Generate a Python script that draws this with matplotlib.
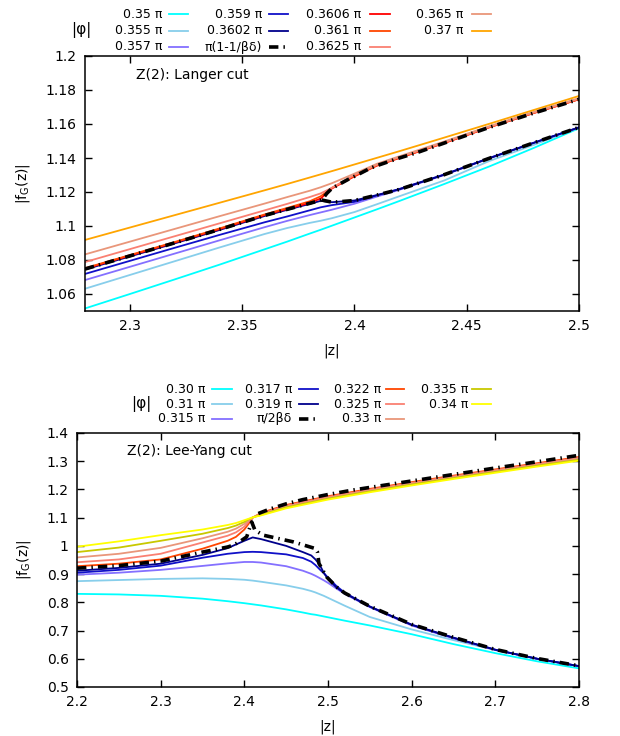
import matplotlib.pyplot as plt
from matplotlib.lines import Line2D

plt.rcParams['font.family'] = 'DejaVu Sans'
plt.rcParams['font.size'] = 9.5

# ---------------- top panel: Langer cut ----------------
zt = [2.28, 2.30, 2.32, 2.34, 2.36, 2.37, 2.38, 2.385, 2.39, 2.40, 2.41, 2.42, 2.44, 2.46, 2.48, 2.50]
f_350 = [1.0515, 1.0600, 1.0686, 1.0773, 1.0863, 1.0908, 1.0955, 1.0978, 1.1002, 1.1050, 1.1098, 1.1147, 1.1247, 1.1350, 1.1460, 1.1575]
f_355 = [1.0631, 1.0712, 1.0793, 1.0874, 1.0953, 1.0988, 1.1018, 1.1031, 1.1046, 1.1082, 1.1128, 1.1175, 1.1268, 1.1382, 1.1478, 1.1578]
f_357 = [1.0682, 1.0760, 1.0838, 1.0916, 1.0993, 1.1030, 1.1064, 1.1080, 1.1096, 1.1131, 1.1173, 1.1213, 1.1300, 1.1398, 1.1490, 1.1580]
f_359 = [1.0718, 1.0795, 1.0872, 1.0948, 1.1022, 1.1056, 1.1092, 1.1110, 1.1123, 1.1142, 1.1180, 1.1218, 1.1303, 1.1400, 1.1490, 1.1580]
f_3602 = [1.0744, 1.0821, 1.0898, 1.0977, 1.1059, 1.1095, 1.1130, 1.1148, 1.1140, 1.1150, 1.1182, 1.1216, 1.1302, 1.1398, 1.1490, 1.1580]
f_3606 = [1.0749, 1.0826, 1.0903, 1.0982, 1.1064, 1.1100, 1.1136, 1.1162, 1.1221, 1.1292, 1.1355, 1.1400, 1.1488, 1.1580, 1.1665, 1.1745]
f_361 = [1.0752, 1.0829, 1.0906, 1.0986, 1.1068, 1.1106, 1.1145, 1.1175, 1.1225, 1.1295, 1.1357, 1.1402, 1.1490, 1.1581, 1.1666, 1.1746]
f_3625 = [1.0788, 1.0864, 1.0940, 1.1016, 1.1092, 1.1130, 1.1170, 1.1192, 1.1225, 1.1300, 1.1360, 1.1405, 1.1492, 1.1583, 1.1668, 1.1748]
f_365 = [1.0833, 1.0908, 1.0983, 1.1058, 1.1132, 1.1170, 1.1207, 1.1228, 1.1252, 1.1308, 1.1366, 1.1410, 1.1497, 1.1587, 1.1672, 1.1752]
f_370 = [1.0918, 1.0991, 1.1064, 1.1137, 1.1210, 1.1247, 1.1285, 1.1304, 1.1323, 1.1362, 1.1401, 1.1440, 1.1520, 1.1601, 1.1683, 1.1765]

# critical angle pi(1-1/beta delta): incoming + upper branch, and lower branch
zt_crit_a = [2.28, 2.30, 2.32, 2.34, 2.36, 2.37, 2.38, 2.3854, 2.3877, 2.39, 2.398, 2.40, 2.4069, 2.41, 2.4173, 2.42, 2.4277, 2.44, 2.46, 2.48, 2.50]
ft_crit_a = [1.0747, 1.0824, 1.0901, 1.0980, 1.1062, 1.1098, 1.1133, 1.1153, 1.1192, 1.1222, 1.1280, 1.1292, 1.1339, 1.1355, 1.1388, 1.1400, 1.1431, 1.1488, 1.1580, 1.1665, 1.1745]
zt_crit_b = [2.3854, 2.39, 2.3936, 2.40, 2.41, 2.42, 2.44, 2.46, 2.48, 2.50]
ft_crit_b = [1.1153, 1.1140, 1.1143, 1.1150, 1.1182, 1.1215, 1.1302, 1.1398, 1.1490, 1.1580]

top_labels = ['0.35 π', '0.355 π', '0.357 π', '0.359 π', '0.3602 π', 'π(1-1/βδ)',
              '0.3606 π', '0.361 π', '0.3625 π', '0.365 π', '0.37 π']
top_series = [f_350, f_355, f_357, f_359, f_3602, None, f_3606, f_361, f_3625, f_365, f_370]
top_colors = ['#00ffff', '#87ceeb', '#8470ff', '#1010c8', '#00008b', 'black',
              '#ff0000', '#ff4500', '#fa8072', '#e9967a', '#ffa500']

# ---------------- bottom panel: Lee-Yang cut ----------------
zl = [2.2, 2.25, 2.3, 2.35, 2.38, 2.40, 2.41, 2.42, 2.45, 2.47, 2.48, 2.485, 2.49, 2.495, 2.5, 2.51, 2.52, 2.55, 2.6, 2.65, 2.7, 2.75, 2.8]
g_300 = [0.830, 0.828, 0.823, 0.813, 0.804, 0.797, 0.793, 0.789, 0.775, 0.764, 0.758, 0.756, 0.753, 0.750, 0.747, 0.741, 0.735, 0.718, 0.687, 0.652, 0.620, 0.591, 0.566]
g_310 = [0.875, 0.879, 0.883, 0.885, 0.883, 0.880, 0.877, 0.873, 0.860, 0.848, 0.840, 0.835, 0.829, 0.823, 0.816, 0.802, 0.788, 0.748, 0.704, 0.666, 0.631, 0.600, 0.573]
g_315 = [0.898, 0.905, 0.915, 0.929, 0.938, 0.943, 0.943, 0.941, 0.928, 0.912, 0.901, 0.894, 0.886, 0.878, 0.869, 0.849, 0.830, 0.783, 0.718, 0.672, 0.631, 0.600, 0.574]
g_317 = [0.905, 0.915, 0.930, 0.958, 0.972, 0.978, 0.979, 0.978, 0.970, 0.957, 0.944, 0.932, 0.917, 0.903, 0.888, 0.858, 0.834, 0.785, 0.720, 0.674, 0.632, 0.600, 0.574]
g_319 = [0.912, 0.922, 0.937, 0.968, 0.992, 1.018, 1.030, 1.024, 1.000, 0.978, 0.966, 0.952, 0.933, 0.905, 0.882, 0.853, 0.832, 0.785, 0.721, 0.675, 0.632, 0.600, 0.574]

zu = [2.2, 2.25, 2.3, 2.35, 2.38, 2.39, 2.40, 2.405, 2.41, 2.42, 2.45, 2.5, 2.55, 2.6, 2.65, 2.7, 2.75, 2.8]
g_322 = [0.928, 0.937, 0.952, 0.990, 1.018, 1.032, 1.058, 1.078, 1.100, 1.117, 1.145, 1.176, 1.202, 1.226, 1.249, 1.271, 1.293, 1.315]
g_325 = [0.942, 0.952, 0.972, 1.012, 1.036, 1.048, 1.068, 1.085, 1.100, 1.114, 1.142, 1.173, 1.199, 1.223, 1.246, 1.268, 1.290, 1.312]
g_330 = [0.959, 0.972, 0.993, 1.027, 1.050, 1.061, 1.078, 1.090, 1.101, 1.112, 1.139, 1.170, 1.196, 1.220, 1.243, 1.265, 1.287, 1.309]
g_335 = [0.978, 0.994, 1.018, 1.043, 1.063, 1.072, 1.085, 1.094, 1.101, 1.110, 1.136, 1.167, 1.193, 1.217, 1.240, 1.262, 1.284, 1.305]
g_340 = [0.997, 1.016, 1.038, 1.058, 1.074, 1.081, 1.091, 1.096, 1.101, 1.108, 1.133, 1.164, 1.190, 1.214, 1.237, 1.259, 1.281, 1.302]

# pi/(2 beta delta): lower curve with cusp, and upper branch
zb_crit_a = [2.2, 2.25, 2.3, 2.35, 2.38, 2.3868, 2.395, 2.4028, 2.4088, 2.4127, 2.4227, 2.4585, 2.4845, 2.4873, 2.4892, 2.4984, 2.51, 2.52, 2.55, 2.6, 2.65, 2.7, 2.75, 2.8]
fb_crit_a = [0.921, 0.930, 0.946, 0.978, 0.996, 1.0025, 1.016, 1.032, 1.085, 1.0556, 1.0379, 1.0142, 0.9908, 0.979, 0.9377, 0.890, 0.855, 0.833, 0.786, 0.722, 0.676, 0.633, 0.601, 0.575]
zb_crit_b = [2.4167, 2.43, 2.45, 2.47, 2.5, 2.53, 2.6, 2.65, 2.7, 2.75, 2.8]
fb_crit_b = [1.1147, 1.130, 1.149, 1.164, 1.182, 1.198, 1.230, 1.253, 1.276, 1.298, 1.321]

bot_labels = ['0.30 π', '0.31 π', '0.315 π', '0.317 π', '0.319 π', 'π/2βδ',
              '0.322 π', '0.325 π', '0.33 π', '0.335 π', '0.34 π']
bot_colors = ['#00ffff', '#87ceeb', '#8470ff', '#1010c8', '#00008b', 'black',
              '#ff4500', '#fa8072', '#e9967a', '#c8c800', '#ffff00']

W, H = 620, 736
fig = plt.figure(figsize=(W / 100, H / 100), dpi=100)

def px_axes(l, t, r, b):
    return fig.add_axes([l / W, 1 - b / H, (r - l) / W, (b - t) / H])

dash = (0, (2.6, 1.4, 0.4, 1.4))
lw = 1.3
lw_crit = 2.6

ax1 = px_axes(85, 56, 579, 311)
for f, c in zip(top_series, top_colors):
    if f is None:
        continue
    ax1.plot(zt, f, color=c, lw=lw)
ax1.plot(zt_crit_a, ft_crit_a, color='black', lw=lw_crit, ls=dash)
ax1.plot(zt_crit_b, ft_crit_b, color='black', lw=lw_crit, ls=dash)
ax1.set_xlim(2.28, 2.5)
ax1.set_ylim(1.05, 1.2)
ax1.set_xticks([2.3, 2.35, 2.4, 2.45, 2.5])
ax1.set_xticklabels(['2.3', '2.35', '2.4', '2.45', '2.5'])
ax1.set_yticks([1.06, 1.08, 1.1, 1.12, 1.14, 1.16, 1.18, 1.2])
ax1.set_yticklabels(['1.06', '1.08', '1.1', '1.12', '1.14', '1.16', '1.18', '1.2'])
ax1.text(2.3027, 1.1888, 'Z(2): Langer cut', fontsize=10, va='center')

ax2 = px_axes(77, 433, 579, 687)
for f, c in zip([g_300, g_310, g_315, g_317, g_319], bot_colors[:5]):
    ax2.plot(zl, f, color=c, lw=lw)
for f, c in zip([g_322, g_325, g_330, g_335, g_340], bot_colors[6:]):
    ax2.plot(zu, f, color=c, lw=lw)
ax2.plot(zb_crit_a, fb_crit_a, color='black', lw=lw_crit, ls=dash)
ax2.plot(zb_crit_b, fb_crit_b, color='black', lw=lw_crit, ls=dash)
ax2.set_xlim(2.2, 2.8)
ax2.set_ylim(0.5, 1.4)
ax2.set_xticks([2.2, 2.3, 2.4, 2.5, 2.6, 2.7, 2.8])
ax2.set_yticks([0.5, 0.6, 0.7, 0.8, 0.9, 1.0, 1.1, 1.2, 1.3, 1.4])
ax2.set_yticklabels(['0.5', '0.6', '0.7', '0.8', '0.9', '1', '1.1', '1.2', '1.3', '1.4'])
ax2.text(2.26, 1.336, 'Z(2): Lee-Yang cut', fontsize=10, va='center')

for ax in (ax1, ax2):
    ax.tick_params(direction='in', top=True, right=True, length=5, width=1, pad=6, labelsize=10)
    for s in ax.spines.values():
        s.set_linewidth(1.1)
    ax.set_xlabel('|z|', fontsize=10, labelpad=7)
    ax.set_ylabel(r'|f$_\mathregular{G}$(z)|', fontsize=10, labelpad=10)

# gnuplot-style keys: text right-aligned, sample to its right
def key(labels, colors, rows, cols, phi_xy):
    for i, (lab, c) in enumerate(zip(labels, colors)):
        ci, ri = i // 3, i % 3
        tx, sx0, sx1 = cols[ci]
        y = 1 - rows[ri] / H
        fig.text(tx / W, y, lab, ha='right', va='center', fontsize=9)
        if c == 'black':
            fig.add_artist(Line2D([sx0 / W, sx1 / W], [y, y], color=c, lw=lw_crit, ls=dash))
        else:
            fig.add_artist(Line2D([sx0 / W, sx1 / W], [y, y], color=c, lw=lw))
    fig.text(phi_xy[0] / W, 1 - phi_xy[1] / H, '|φ|', ha='center', va='center', fontsize=11)

key(top_labels, top_colors, [14, 31, 47],
    [(162, 169, 188), (262, 269, 288), (361, 370, 390), (463, 472, 491)], (81, 30))
key(bot_labels, bot_colors, [389, 404, 419],
    [(205, 212, 232), (292, 299, 318), (381, 386, 404), (468, 472, 491)], (141, 404))

fig.savefig('out.png', dpi=100)
